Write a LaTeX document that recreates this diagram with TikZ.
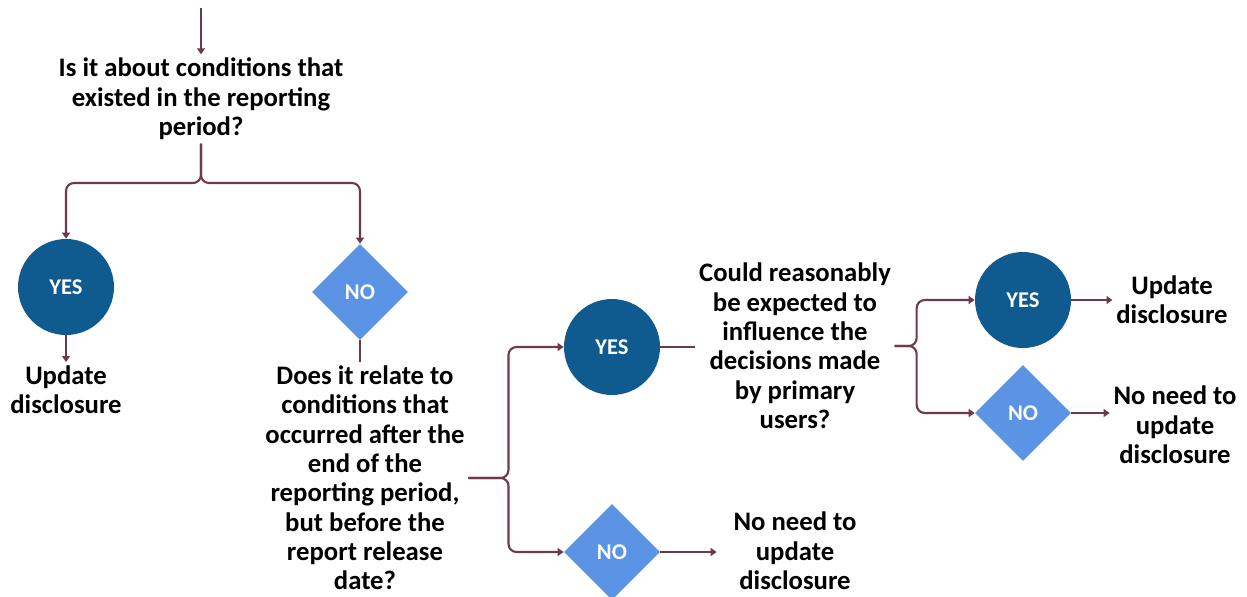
\documentclass[tikz,border=0pt]{standalone}
\usepackage{xcolor}
\usepackage{fontspec}
\setmainfont{Carlito}
\usepackage{tikz}
\usetikzlibrary{shapes.geometric, arrows.meta, positioning, calc}
\definecolor{darkblue}{HTML}{0F5A8E}
\definecolor{lightblue}{HTML}{5B94E4}
\definecolor{linecol}{HTML}{6E3A4B}
\tikzstyle{yesnode} = [circle, minimum size=1.92cm, inner sep=0pt, fill=darkblue, text=white, font=\fontsize{12.8}{15}\selectfont\bfseries]
\tikzstyle{nonode} = [diamond, minimum size=1.92cm, inner sep=0pt, fill=lightblue, text=white, font=\fontsize{12.8}{15}\selectfont\bfseries]
\tikzstyle{txt} = [align=center, inner sep=2pt, font=\fontsize{15.2}{16.7}\selectfont\bfseries]
\tikzstyle{link} = [draw=linecol, line width=1.2pt]
\tikzstyle{line} = [link, -{Triangle[length=3.4pt,width=4.5pt]}]
\tikzstyle{brace} = [line, rounded corners=0.16cm]

\begin{document}
\begin{tikzpicture}[x=0.02cm, y=-0.02cm]
              \useasboundingbox (0,0) rectangle (1247,596);

              \coordinate (start) at (201,8);
              \node[txt] (q1) at (201,99) {Is it about conditions that\\existed in the reporting\\period?};

              \node[yesnode] (yes1) at (66,287) {YES};
              \node[nonode] (no1) at (360,292) {NO};
              \node[txt] (upd1) at (66,390) {Update\\disclosure};
              \node[txt] (q2) at (365,478) {Does it relate to\\conditions that\\occurred after the\\end of the\\reporting period,\\but before the\\report release\\date?};

              \node[yesnode] (yes2) at (612,347) {YES};
              \node[nonode] (no2) at (612,552) {NO};
              \node[txt] (q3) at (795,346) {Could reasonably\\be expected to\\influence the\\decisions made\\by primary\\users?};
              \node[txt] (nn2) at (795,551) {No need to\\update\\disclosure};

              \node[yesnode] (yes3) at (1023,300) {YES};
              \node[nonode] (no3) at (1023,413) {NO};
              \node[txt] (upd3) at (1172,300) {Update\\disclosure};
              \node[txt] (nn3) at (1175,425) {No need to\\update\\disclosure};

              \draw[line] (start) -- (q1);
              \draw[brace] (q1.south) -- (q1.south |- 0,183) -| (yes1.north);
              \draw[brace] (q1.south) -- (q1.south |- 0,183) -| (no1.north);
              \draw[line] (yes1) -- (upd1);
              \draw[link] (no1.south) -- (no1.south |- q2.north);

              \draw[brace] (q2.east) -- ($(q2.east)+(40,0)$) |- (yes2.west);
              \draw[brace] (q2.east) -- ($(q2.east)+(40,0)$) |- (no2.west);
              \draw[link] (yes2.east) -- (yes2.east -| q3.west);
              \draw[line, shorten >=0.26cm] (no2.east) -- (no2.east -| nn2.west);

              \draw[brace] (q3.east) -- ($(q3.east)+(22,0)$) |- (yes3.west);
              \draw[brace] (q3.east) -- ($(q3.east)+(22,0)$) |- (no3.west);
              \draw[line] (yes3) -- (upd3);
              \draw[line] (no3.east) -- (no3.east -| nn3.west);

          \end{tikzpicture}
\end{document}
